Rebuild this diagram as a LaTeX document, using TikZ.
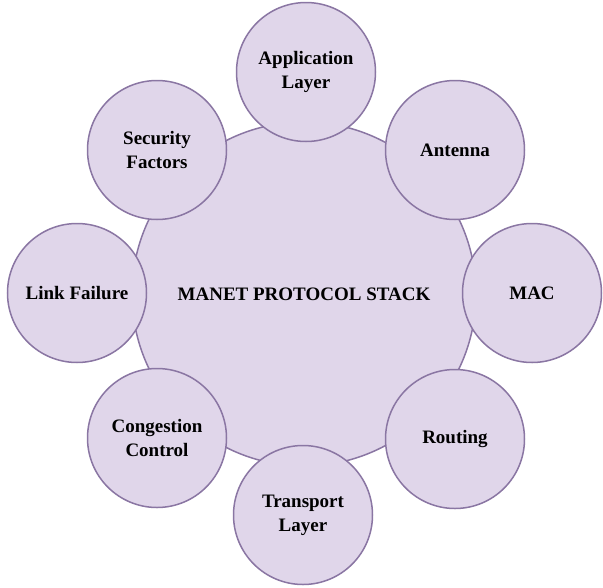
\documentclass[tikz,border=0pt]{standalone}
\usepackage{fontspec}
\setmainfont{Liberation Serif}
\definecolor{stackfill}{RGB}{224,214,234}
\definecolor{stackline}{RGB}{138,118,163}
\begin{document}
\begin{tikzpicture}[x=1pt,y=-1pt,
        layer/.style={circle,draw=stackline,fill=stackfill,line width=1.5pt,
            minimum size=139pt,inner sep=0pt,align=center,
            font=\fontsize{19}{24}\selectfont\bfseries},
        core/.style={layer,minimum size=344pt}]
        \useasboundingbox (0,0) rectangle (603,587);
        \node[core] (stack) at (304,294) {MANET PROTOCOL STACK};
        \node[layer] (app) at (306,72) {Application\\Layer};
        \node[layer] (antenna) at (455,150) {Antenna};
        \node[layer] (mac) at (532,293) {MAC};
        \node[layer] (routing) at (455,439) {Routing};
        \node[layer] (transport) at (303,515) {Transport\\Layer};
        \node[layer] (congestion) at (157,438) {Congestion\\Control};
        \node[layer] (link) at (77,293) {Link Failure};
        \node[layer] (security) at (157,150) {Security\\Factors};
    \end{tikzpicture}
\end{document}
